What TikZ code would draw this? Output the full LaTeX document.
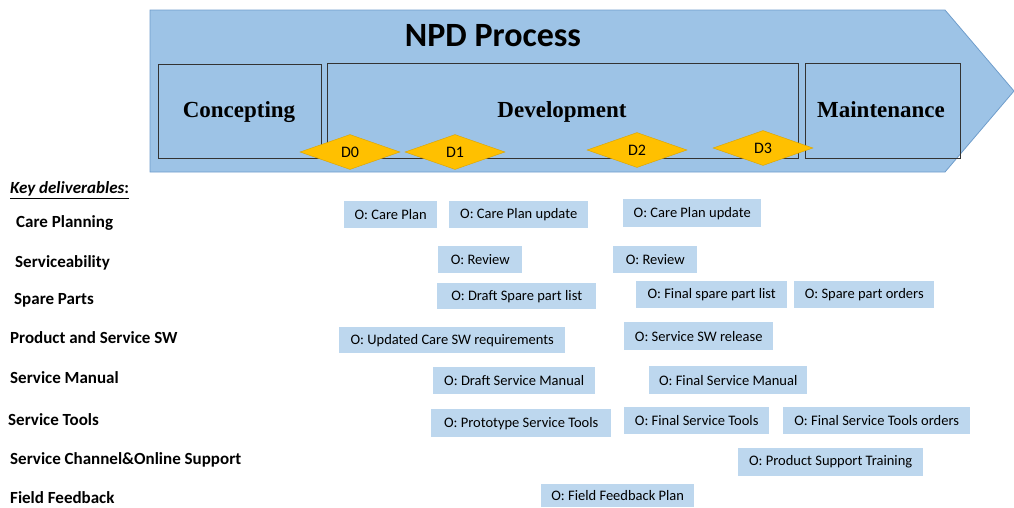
\documentclass[tikz,border=0pt]{standalone}
\usepackage{fontspec}
\setmainfont{Carlito}
\newfontfamily\stagefont{Liberation Serif}
\usetikzlibrary{shapes.geometric}
\definecolor{arrowblue}{HTML}{9DC3E6}
\definecolor{arrowedge}{HTML}{6F9DCB}
\definecolor{boxblue}{HTML}{BDD7EE}
\definecolor{gold}{HTML}{FFC000}
\definecolor{goldedge}{HTML}{D9A300}

\begin{document}
\begin{tikzpicture}[x=1pt, y=-1pt]
\tikzset{stage/.style = {draw=black!80, line width=0.8pt, anchor=north west, inner sep=0pt}}
\tikzset{stagelabel/.style = {font=\stagefont\fontsize{23}{26}\selectfont\bfseries}}
\tikzset{milestone/.style = {diamond, draw=goldedge, fill=gold, inner sep=0pt, minimum width=100pt, minimum height=35pt, font=\fontsize{16}{18}\selectfont}}
\tikzset{topic/.style = {anchor=west, inner sep=0pt, font=\fontsize{17}{20}\selectfont\bfseries}}
\tikzset{outbox/.style = {fill=boxblue, anchor=north west, inner sep=0pt, font=\fontsize{14.5}{17}\selectfont}}

\useasboundingbox (0,0) rectangle (1014,507);

% process arrow
\path[fill=arrowblue, draw=arrowedge, line width=0.8pt] (150,10) -- (945,10) -- (1014,91) -- (945,172) -- (150,172) -- cycle;
\node[font=\fontsize{34}{40}\selectfont\bfseries] (npd) at (493,36) {NPD Process};

\node[stage, minimum width=163, minimum height=94] (conc) at (158,64) {};
\node[stage, minimum width=471, minimum height=95] (dev) at (327,63) {};
\node[stage, minimum width=155, minimum height=95] (maint) at (805,63) {};
\node[stagelabel] (conclabel) at (239,112) {Concepting};
\node[stagelabel] (devlabel) at (562,112) {Development};
\node[stagelabel] (maintlabel) at (881,110) {Maintenance};

\node[milestone] (d0) at (350,152) {D0};
\node[milestone] (d1) at (455,152) {D1};
\node[milestone] (d2) at (637,150) {D2};
\node[milestone] (d3) at (763,148) {D3};

% deliverables
\node[topic] (key) at (10,190) {\underline{\textit{Key deliverables}:}};
\node[topic] (care) at (16,223) {Care Planning};
\node[topic] (serv) at (15,263) {Serviceability};
\node[topic] (spare) at (14,300) {Spare Parts};
\node[topic] (sw) at (10,338) {Product and Service SW};
\node[topic] (manual) at (10,378) {Service Manual};
\node[topic] (tools) at (8,420) {Service Tools};
\node[topic] (channel) at (10,460) {Service Channel\&Online Support};
\node[topic] (field) at (10,498) {Field Feedback};

\node[outbox, minimum width=93, minimum height=27] (care1) at (344,201) {O: Care Plan};
\node[outbox, minimum width=139, minimum height=27] (care2) at (449,201) {O: Care Plan update};
\node[outbox, minimum width=138, minimum height=28] (care3) at (623,199) {O: Care Plan update};
\node[outbox, minimum width=84, minimum height=27] (serv1) at (438,246) {O: Review};
\node[outbox, minimum width=84, minimum height=27] (serv2) at (613,246) {O: Review};
\node[outbox, minimum width=159, minimum height=26] (spare1) at (437,283) {O: Draft Spare part list};
\node[outbox, minimum width=151, minimum height=27] (spare2) at (636,281) {O: Final spare part list};
\node[outbox, minimum width=140, minimum height=27] (spare3) at (794,281) {O: Spare part orders};
\node[outbox, minimum width=226, minimum height=26] (sw1) at (339,327) {O: Updated Care SW requirements};
\node[outbox, minimum width=149, minimum height=28] (sw2) at (624,322) {O: Service SW release};
\node[outbox, minimum width=162, minimum height=27] (manual1) at (433,367) {O: Draft Service Manual};
\node[outbox, minimum width=158, minimum height=28] (manual2) at (649,366) {O: Final Service Manual};
\node[outbox, minimum width=180, minimum height=28] (tools1) at (431,409) {O: Prototype Service Tools};
\node[outbox, minimum width=145, minimum height=27] (tools2) at (624,407) {O: Final Service Tools};
\node[outbox, minimum width=187, minimum height=27] (tools3) at (783,407) {O: Final Service Tools orders};
\node[outbox, minimum width=185, minimum height=28] (channel1) at (738,448) {O: Product Support Training};
\node[outbox, minimum width=153, minimum height=23] (field1) at (541,484) {O: Field Feedback Plan};

\end{tikzpicture}
\end{document}
